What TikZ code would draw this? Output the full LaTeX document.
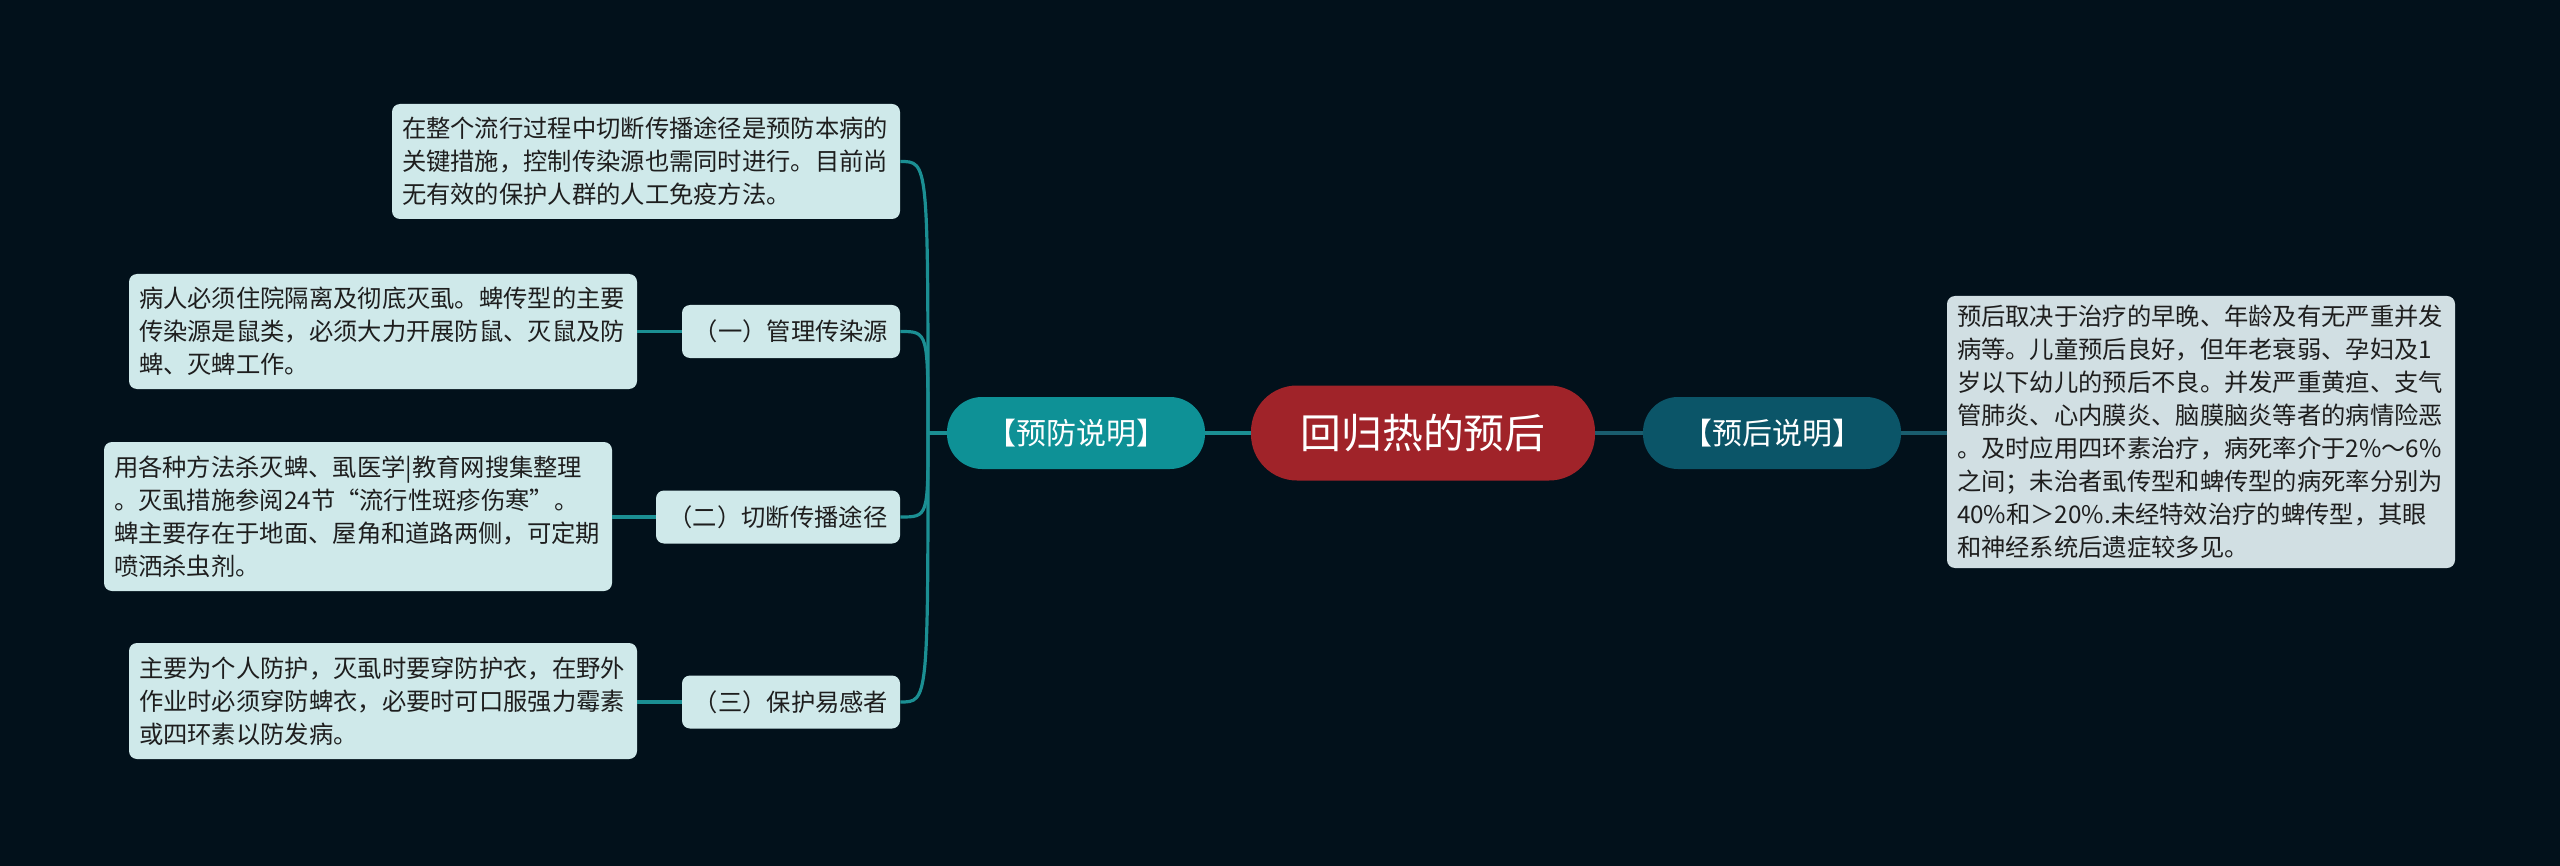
\documentclass[tikz,border=0pt]{standalone}
\usepackage{fontspec}
\usepackage{xcolor}
\usepackage{tikz}
\newfontfamily\cjkfont{Noto Sans CJK SC}
\definecolor{bgdark}{HTML}{02111B}
\definecolor{rootred}{HTML}{A02329}
\definecolor{prevteal}{HTML}{0E9196}
\definecolor{progteal}{HTML}{0B5568}
\definecolor{leafbg}{HTML}{CFE9EA}
\definecolor{rleafbg}{HTML}{D1DFE3}
\definecolor{prevline}{HTML}{1B8F93}
\definecolor{progline}{HTML}{1A5D6E}
\definecolor{leaftext}{HTML}{1E1E1E}

\begin{document}
\begin{tikzpicture}[
    x=0.5pt, y=-0.5pt,
    root/.style={rectangle, fill=rootred, rounded corners=23pt, minimum width=172pt, minimum height=47.5pt, inner sep=0pt, font=\cjkfont\fontsize{20.4pt}{24pt}\selectfont, text=white},
    topic/.style={rectangle, rounded corners=17.5pt, minimum width=129pt, minimum height=36pt, inner sep=0pt, font=\cjkfont\fontsize{15pt}{18pt}\selectfont, text=white},
    sub/.style={rectangle, fill=leafbg, rounded corners=4pt, minimum height=26.5pt, inner sep=0pt, font=\cjkfont\fontsize{12.15pt}{16.5pt}\selectfont, text=leaftext},
    leaf/.style={rectangle, fill=leafbg, rounded corners=4pt, text width=244pt, inner xsep=5pt, inner ysep=0pt, align=left, font=\cjkfont\fontsize{12.15pt}{16.5pt}\selectfont, text=leaftext},
    link/.style={line width=1.6pt, draw=prevline},
]
\fill[bgdark] (0,0) rectangle (2560,866);
\useasboundingbox (0,0) rectangle (2560,866);

\node[root] (root) at (1423,433) {回归热的预后};
\node[topic, fill=prevteal] (prev) at (1076,433) {【预防说明】};
\node[topic, fill=progteal] (prog) at (1772,433) {【预后说明】};

\node[leaf, fill=rleafbg, minimum height=136pt] (progtxt) at (2201,432) {预后取决于治疗的早晚、年龄及有无严重并发\\病等。儿童预后良好，但年老衰弱、孕妇及1\\岁以下幼儿的预后不良。并发严重黄疸、支气\\管肺炎、心内膜炎、脑膜脑炎等者的病情险恶\\。及时应用四环素治疗，病死率介于2\%～6\%\\之间；未治者虱传型和蜱传型的病死率分别为\\40\%和＞20\%.未经特效治疗的蜱传型，其眼\\和神经系统后遗症较多见。};

\coordinate (pj) at (928,433);
\node[leaf, minimum height=57.5pt] (l0) at (646,161.5) {在整个流行过程中切断传播途径是预防本病的\\关键措施，控制传染源也需同时进行。目前尚\\无有效的保护人群的人工免疫方法。};
\node[sub, minimum width=109pt] (s1) at (791,331.5) {（一）管理传染源};
\node[leaf, minimum height=57.5pt] (l1) at (383,331.5) {病人必须住院隔离及彻底灭虱。蜱传型的主要\\传染源是鼠类，必须大力开展防鼠、灭鼠及防\\蜱、灭蜱工作。};
\node[sub, minimum width=122pt] (s2) at (778,517) {（二）切断传播途径};
\node[leaf, minimum height=74.5pt] (l2) at (358,516.5) {用各种方法杀灭蜱、虱医学|教育网搜集整理\\。灭虱措施参阅24节“流行性斑疹伤寒”。\\蜱主要存在于地面、屋角和道路两侧，可定期\\喷洒杀虫剂。};
\node[sub, minimum width=109pt] (s3) at (791,702) {（三）保护易感者};
\node[leaf, minimum height=58pt] (l3) at (383,701) {主要为个人防护，灭虱时要穿防护衣，在野外\\作业时必须穿防蜱衣，必要时可口服强力霉素\\或四环素以防发病。};

\draw[link] (prev) -- (root);
\draw[link, draw=progline] (root) -- (prog);
\draw[link, draw=progline] (prog.east) -- (prog.east -| progtxt.west);
\draw[link] (prev.west) -- (pj);
\foreach \n in {l0,s1,s2,s3}
    \draw[link] (pj) .. controls (pj |- \n.east) .. (\n.east);
\foreach \a/\b in {l1/s1,l2/s2,l3/s3}
    \draw[link] (\b.west) -- (\b.west -| \a.east);
\end{tikzpicture}
\end{document}
